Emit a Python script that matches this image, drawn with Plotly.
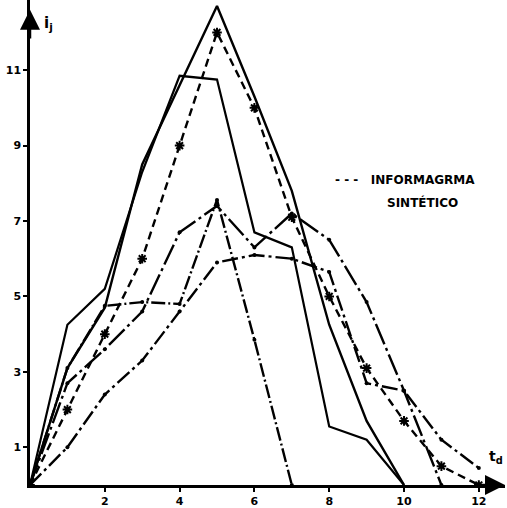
import plotly.graph_objects as go

t = list(range(0, 13))
c1 = [0, 3.1, 4.7, 8.5, 10.6, 12.7, 10.3, 7.8, 4.25, 1.7, 0]
c2 = [0, 4.25, 5.2, 8.3, 10.85, 10.75, 6.7, 6.3, 1.55, 1.2, 0]
c3 = [0, 3.1, 4.75, 4.85, 4.8, 7.56, 3.85, 0]
c4 = [0, 2.7, 3.6, 4.6, 6.7, 7.4, 6.3, 7.2, 6.5, 4.85, 2.5, 0]
c5 = [0, 1.0, 2.4, 3.3, 4.6, 5.9, 6.1, 6.0, 5.65, 2.7, 2.5, 1.2, 0.45]
synt = [0, 2.0, 4.0, 6.0, 9.0, 12.0, 10.0, 7.1, 5.0, 3.1, 1.7, 0.5, 0]

xticks = [2, 4, 6, 8, 10, 12]
yticks = [1, 3, 5, 7, 9, 11]

fig = go.Figure()

def add(y, dash, width=2.4, mode="lines", marker=None):
    fig.add_trace(go.Scatter(
        x=t[:len(y)], y=y, mode=mode,
        line=dict(color="black", width=width, dash=dash),
        marker=marker, showlegend=False, hoverinfo="skip"))

dot = dict(color="black", size=4)
add(c1, "solid", 2.4)
add(c2, "solid", 2.2)
add(c3, "14px,3px,2px,3px", 2.4, "lines+markers", dot)
add(c4, "22px,4px,3px,4px", 2.4, "lines+markers", dot)
add(c5, "16px,4px,3px,4px", 2.4, "lines+markers", dot)
add(synt, "8px,5px", 2.4, "lines+markers",
    dict(symbol="asterisk-open", size=8, color="black", line=dict(color="black", width=2)))

font = dict(family="DejaVu Sans, sans-serif", size=11, color="black", weight=700)

fig.update_xaxes(range=[0, 12.7], tickvals=xticks, ticktext=[str(v) for v in xticks],
                 showgrid=False, zeroline=False, showline=True, linecolor="black", linewidth=2.5,
                 ticks="outside", ticklen=4, tickwidth=2, tickcolor="black", tickfont=font)
fig.update_yaxes(range=[0, 12.86], tickvals=yticks, ticktext=[str(v) for v in yticks],
                 showgrid=False, zeroline=False, showline=True, linecolor="black", linewidth=2.5,
                 ticks="outside", ticklen=4, tickwidth=2, tickcolor="black", tickfont=font)

# axis arrows
fig.add_annotation(x=0, y=12.6, ax=0, ay=11.8, xref="x", yref="y", axref="x", ayref="y",
                   showarrow=True, arrowhead=2, arrowsize=1.6, arrowwidth=2.5, arrowcolor="black", text="")
fig.add_annotation(x=12.7, y=0, ax=12.0, ay=0, xref="x", yref="y", axref="x", ayref="y",
                   showarrow=True, arrowhead=2, arrowsize=1.6, arrowwidth=2.5, arrowcolor="black", text="")

fig.add_annotation(x=0.5, y=12.25, xref="x", yref="y", text="i<sub>j</sub>", showarrow=False,
                   font=dict(family="DejaVu Sans, sans-serif", size=15, color="black", weight=700))
fig.add_annotation(x=12.45, y=0.75, xref="x", yref="y", text="t<sub>d</sub>", showarrow=False,
                   font=dict(family="DejaVu Sans, sans-serif", size=14, color="black", weight=700))

legfont = dict(family="DejaVu Sans, sans-serif", size=12, color="black", weight=700)
fig.add_annotation(x=8.1, y=8.1, xref="x", yref="y", xanchor="left", text="- - -   INFORMAGRMA",
                   showarrow=False, font=legfont)
fig.add_annotation(x=9.5, y=7.5, xref="x", yref="y", xanchor="left", text="SINTÉTICO",
                   showarrow=False, font=legfont)

fig.update_layout(width=507, height=508, margin=dict(l=30, r=2, t=0, b=23),
                  paper_bgcolor="white", plot_bgcolor="white")
fig.write_html("out.html")
